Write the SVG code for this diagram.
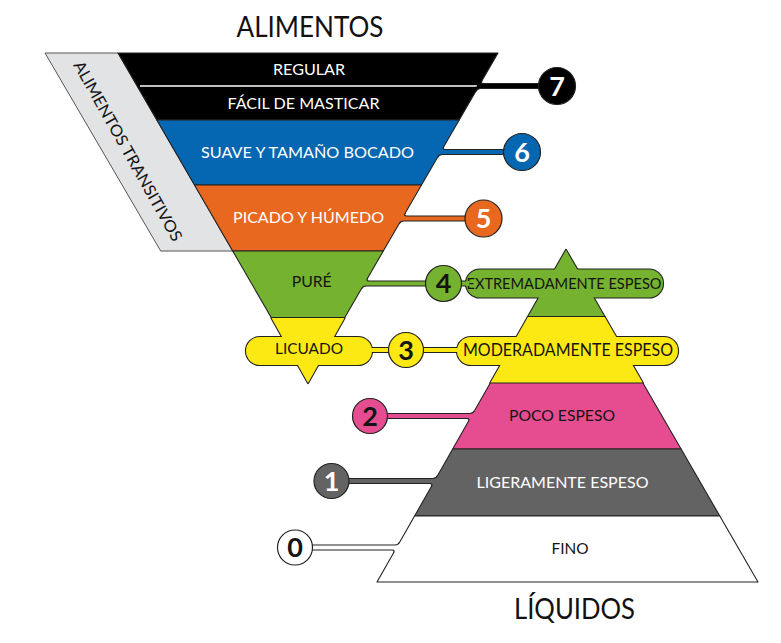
<svg xmlns="http://www.w3.org/2000/svg" xmlns:xlink="http://www.w3.org/1999/xlink" width="781" height="643" viewBox="0 0 781 643">
<style>
  .t { font-family: Lato, "Open Sans", "Liberation Sans", sans-serif; text-anchor: middle; }
  .lbl { font-size: 16px; }
  .ttl { font-size: 28px; fill: #111; }
  .num { font-size: 27px; font-weight: 700; }
  .w { fill: #ffffff; }
  .d { fill: #141414; }
  .band { stroke: #222; stroke-width: 1.1; stroke-linejoin: round; }
  .cline { fill: none; stroke: #222; stroke-width: 1.2; stroke-linejoin: round; }
  .badge { stroke: #222; stroke-width: 1.2; }
</style>
<defs>
  <g id="u-food3">
    <polygon points="271.5,318 344.5,318 308,383"/>
    <rect x="246" y="337" width="126" height="28" rx="14"/>
  </g>
  <g id="u-drink4">
    <polygon points="566,250 604.7,317 527.9,317"/>
    <rect x="466" y="269.5" width="197" height="28" rx="14"/>
  </g>
  <g id="u-drink3">
    <polygon points="527.9,317 604.7,317 642.9,383 490.3,383"/>
    <rect x="457" y="337" width="221" height="28" rx="14"/>
  </g>
</defs>
<rect width="781" height="643" fill="#ffffff"/>

<text class="t ttl" x="310" y="36.7" textLength="147" lengthAdjust="spacingAndGlyphs">ALIMENTOS</text>
<text class="t ttl" x="574.5" y="619" textLength="121" lengthAdjust="spacingAndGlyphs">LÍQUIDOS</text>

<g id="transitional">
  <polygon points="45,53 118,53 232.7,251 160.7,251" fill="#E2E3E5" stroke="#555" stroke-width="1"/>
  <text class="t d" font-size="16" transform="translate(128,151) rotate(60.6)" x="0" y="5.7" textLength="204" lengthAdjust="spacingAndGlyphs">ALIMENTOS TRANSITIVOS</text>
</g>

<g id="level-7-food">
  <polygon class="band" points="118,53 498,53 459.2,120 156.8,120" fill="#000"/>
  <line x1="140" y1="86" x2="477" y2="86" stroke="#fff" stroke-width="1.6"/>
  <text class="t lbl w" x="309" y="75" textLength="72" lengthAdjust="spacingAndGlyphs">REGULAR</text>
  <text class="t lbl w" x="303.5" y="109.3" textLength="152" lengthAdjust="spacingAndGlyphs">FÁCIL DE MASTICAR</text>
</g>

<g id="level-6-food">
  <polygon class="band" points="156.8,120 459.2,120 421.5,185 194.5,185" fill="#0567B1"/>
  <text class="t lbl w" x="307.5" y="158" textLength="213" lengthAdjust="spacingAndGlyphs">SUAVE Y TAMAÑO BOCADO</text>
</g>

<g id="level-5-food">
  <polygon class="band" points="194.5,185 421.5,185 383.3,251 232.7,251" fill="#E8681F"/>
  <text class="t lbl w" x="308.5" y="223" textLength="151" lengthAdjust="spacingAndGlyphs">PICADO Y HÚMEDO</text>
</g>

<g id="level-4-food">
  <polygon class="band" points="232.7,251 383.3,251 344.5,318 271.5,318" fill="#74B22F"/>
  <text class="t lbl d" x="311.7" y="287.3" textLength="40" lengthAdjust="spacingAndGlyphs">PURÉ</text>
</g>

<g id="level-3-food">
  <use xlink:href="#u-food3" href="#u-food3" fill="#FCE813" stroke="#222" stroke-width="2.2" stroke-linejoin="round"/>
  <use xlink:href="#u-food3" href="#u-food3" fill="#FCE813"/>
  <text class="t lbl d" x="309" y="354" textLength="68" lengthAdjust="spacingAndGlyphs">LICUADO</text>
</g>

<g id="level-4-drink">
  <use xlink:href="#u-drink4" href="#u-drink4" fill="#74B22F" stroke="#222" stroke-width="2.2" stroke-linejoin="round"/>
  <use xlink:href="#u-drink4" href="#u-drink4" fill="#74B22F"/>
  <text class="t lbl d" x="564" y="288.5" textLength="195" lengthAdjust="spacingAndGlyphs">EXTREMADAMENTE ESPESO</text>
</g>

<g id="level-3-drink">
  <use xlink:href="#u-drink3" href="#u-drink3" fill="#FCE813" stroke="#222" stroke-width="2.2" stroke-linejoin="round"/>
  <use xlink:href="#u-drink3" href="#u-drink3" fill="#FCE813"/>
  <text class="t d" font-size="17" x="568" y="355.5" textLength="210" lengthAdjust="spacingAndGlyphs">MODERADAMENTE ESPESO</text>
</g>

<g id="level-2-drink">
  <polygon class="band" points="490.3,383 642.9,383 681.1,449 452.7,449" fill="#E64D91"/>
  <text class="t lbl d" x="562" y="421" textLength="106" lengthAdjust="spacingAndGlyphs">POCO ESPESO</text>
</g>

<g id="level-1-drink">
  <polygon class="band" points="452.7,449 681.1,449 719.8,516 414.6,516" fill="#636363"/>
  <text class="t lbl w" x="562.5" y="487.7" textLength="172" lengthAdjust="spacingAndGlyphs">LIGERAMENTE ESPESO</text>
</g>

<g id="level-0-drink">
  <polygon class="band" points="414.6,516 719.8,516 758,582 377,582" fill="#ffffff"/>
  <text class="t lbl d" x="570" y="554" textLength="37" lengthAdjust="spacingAndGlyphs">FINO</text>
</g>

<g id="connectors">
  <path d="M480,80.5 L482.07,80.5 Q480.33,83.5 483.33,83.5 L557,83.5 L557,88.5 L480.43,88.5 Q477.43,88.5 475.70,91.5 L473.7,91.5 Z" fill="#000"/>
  <path class="cline" d="M482.07,80.5 Q480.33,83.5 483.33,83.5 L557,83.5 M557,88.5 L480.43,88.5 Q477.43,88.5 475.70,91.5" stroke="#000"/>
  <path d="M441.84,146.5 L443.84,146.5 Q442.10,149.5 445.10,149.5 L522,149.5 L522,154.5 L442.20,154.5 Q439.20,154.5 437.46,157.5 L435.46,157.5 Z" fill="#0567B1"/>
  <path class="cline" d="M443.84,146.5 Q442.10,149.5 445.10,149.5 L522,149.5 M522,154.5 L442.20,154.5 Q439.20,154.5 437.46,157.5"/>
  <path d="M403.31,213 L405.31,213 Q403.57,216 406.57,216 L483.5,216 L483.5,221 L403.68,221 Q400.68,221 398.94,224 L396.94,224 Z" fill="#E8681F"/>
  <path class="cline" d="M405.31,213 Q403.57,216 406.57,216 L483.5,216 M483.5,221 L403.68,221 Q400.68,221 398.94,224"/>
  <path d="M365.66,278 L367.66,278 Q365.92,281 368.92,281 L443.5,281 L443.5,286 L366.02,286 Q363.02,286 361.29,289 L359.29,289 Z" fill="#74B22F"/>
  <path class="cline" d="M367.66,278 Q365.92,281 368.92,281 L443.5,281 M443.5,286 L366.02,286 Q363.02,286 361.29,289"/>
  <rect x="443.5" y="281" width="26" height="5" fill="#74B22F"/>
  <path class="cline" d="M443.5,281 L466.3,281 M443.5,286 L466.2,286"/>
  <rect x="368" y="347.5" width="92" height="5" fill="#FCE813"/>
  <path class="cline" d="M371.6,347.5 L457.4,347.5 M371.9,352.5 L457.1,352.5"/>
  <path d="M370,413.5 L469.92,413.5 Q472.92,413.5 474.63,410.5 L476.63,410.5 L470.37,421.5 L468.37,421.5 Q470.07,418.5 467.07,418.5 L370,418.5 Z" fill="#E64D91"/>
  <path class="cline" d="M370,413.5 L469.92,413.5 Q472.92,413.5 474.63,410.5 M468.37,421.5 Q470.07,418.5 467.07,418.5 L370,418.5"/>
  <path d="M331.5,478.5 L432.91,478.5 Q435.91,478.5 437.62,475.5 L439.62,475.5 L433.36,486.5 L431.36,486.5 Q433.07,483.5 430.07,483.5 L331.5,483.5 Z" fill="#636363"/>
  <path class="cline" d="M331.5,478.5 L432.91,478.5 Q435.91,478.5 437.62,475.5 M431.36,486.5 Q433.07,483.5 430.07,483.5 L331.5,483.5"/>
  <path d="M295,545 L395.06,545 Q398.06,545 399.76,542 L401.76,542 L395.5,553 L393.5,553 Q395.21,550 392.21,550 L295,550 Z" fill="#ffffff"/>
  <path class="cline" d="M295,545 L395.06,545 Q398.06,545 399.76,542 M393.5,553 Q395.21,550 392.21,550 L295,550"/>
</g>

<g id="badge-7"><circle class="badge" cx="557" cy="86" r="18.5" fill="#000"/><text class="t num w" x="557" y="95.5">7</text></g>
<g id="badge-6"><circle class="badge" cx="522" cy="152" r="18.5" fill="#0567B1"/><text class="t num w" x="522" y="161.5">6</text></g>
<g id="badge-5"><circle class="badge" cx="483.5" cy="218.5" r="18.5" fill="#E8681F"/><text class="t num w" x="483.5" y="228">5</text></g>
<g id="badge-4"><circle class="badge" cx="443.5" cy="283.5" r="18" fill="#74B22F"/><text class="t num d" x="443.5" y="293">4</text></g>
<g id="badge-3"><circle class="badge" cx="406" cy="350" r="17.5" fill="#FCE813"/><text class="t num d" x="406" y="359.5">3</text></g>
<g id="badge-2"><circle class="badge" cx="370" cy="416" r="17.5" fill="#E64D91"/><text class="t num d" x="370" y="425.5">2</text></g>
<g id="badge-1"><circle class="badge" cx="331.5" cy="481" r="17.5" fill="#636363"/><text class="t num w" x="331.5" y="490.5">1</text></g>
<g id="badge-0"><circle class="badge" cx="295" cy="547.5" r="17.5" fill="#ffffff"/><text class="t num d" x="295" y="557">0</text></g>
</svg>
